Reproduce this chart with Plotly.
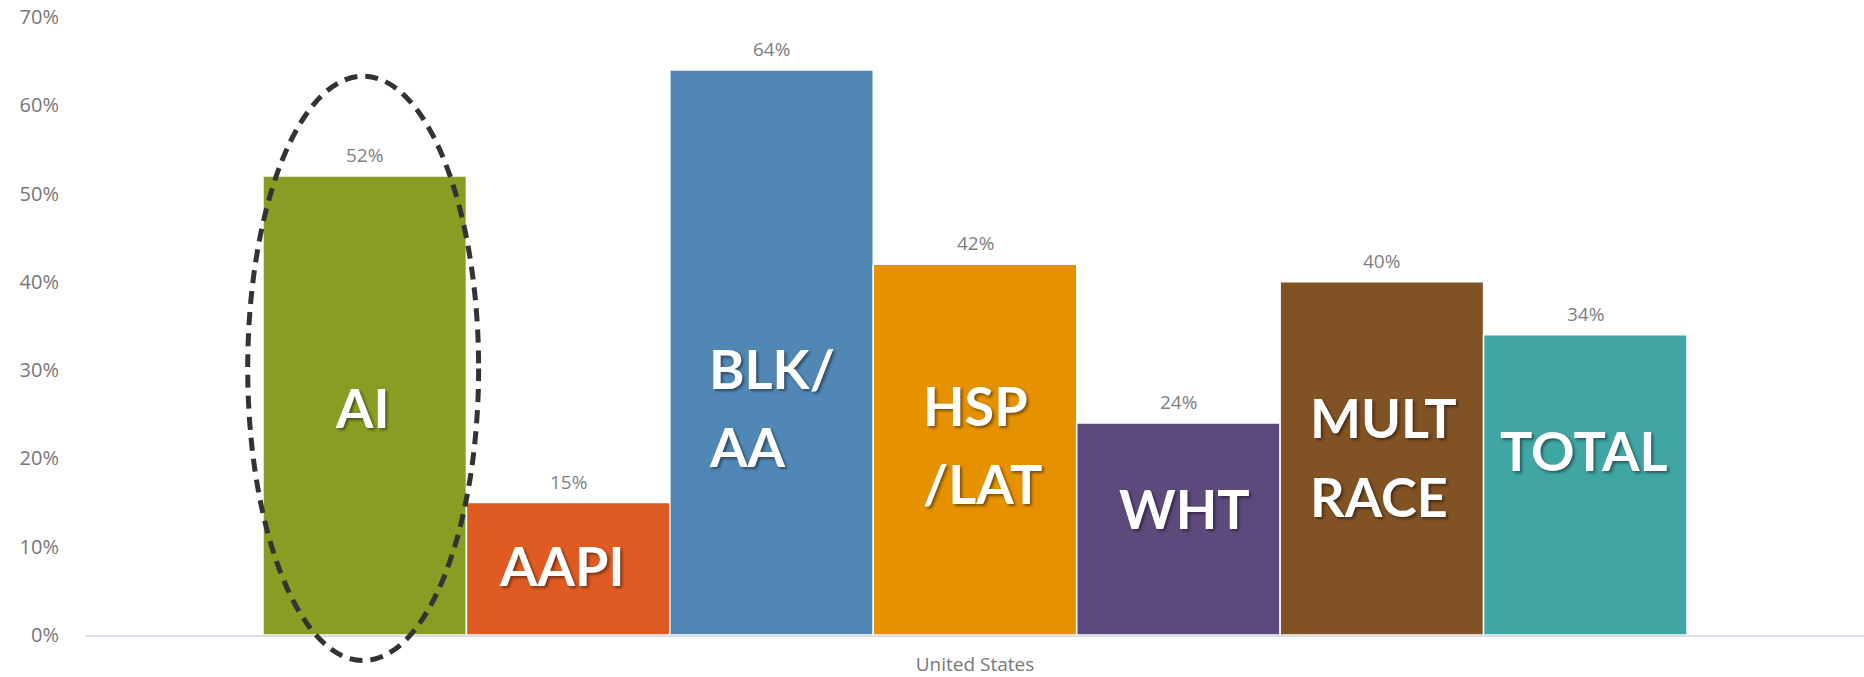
import plotly.graph_objects as go


# data
groups = ['AI', 'AAPI', 'BLK/AA', 'HSP/LAT', 'WHT', 'MULT RACE', 'TOTAL']
values = [52, 15, 64, 42, 24, 40, 34]
bar_labels = [['AI'], ['AAPI'], ['BLK/', 'AA'], ['HSP', '/LAT'], ['WHT'], ['MULT', 'RACE'], ['TOTAL']]
category = ['United States']
y_ticks = [0, 10, 20, 30, 40, 50, 60, 70]

colors = ['#8a9c23', '#df5b21', '#5087b5', '#e59100', '#5e497d', '#815224', '#3fa6a4']

# where the big white labels sit inside each bar (left edge offset, line centres in %)
label_dx = [-0.156, -0.35, -0.317, -0.265, -0.30, -0.362, -0.43]
label_y = [[25.8], [7.9], [30.2, 21.3], [26.0, 17.2], [14.3], [24.6, 15.7], [20.9]]

X_RANGE = [-1.37, 7.37]
Y_RANGE = [0, 70]


def main():
    xs = list(range(len(groups)))

    fig = go.Figure()
    fig.add_trace(go.Bar(
        x=xs,
        y=values,
        width=1,
        marker=dict(color=colors, line=dict(color='white', width=1.5)),
        hoverinfo='skip',
        showlegend=False,
    ))

    # value labels above bars
    for x, v in zip(xs, values):
        fig.add_annotation(
            x=x, y=v, text=f'{v}%', showarrow=False,
            yanchor='bottom', yshift=6,
            font=dict(family='Open Sans', size=19, color='#808080'),
        )

    # big labels inside bars
    for x, lines, dx, ys in zip(xs, bar_labels, label_dx, label_y):
        for line, y in zip(lines, ys):
            fig.add_annotation(
                x=x + dx, y=y, text=line, showarrow=False,
                xanchor='left', yanchor='middle',
                font=dict(family='Lato', size=54, color='white', weight='bold',
                          shadow='2px 2px 3px rgba(0,0,0,0.45)'),
            )

    # dashed ellipse around the AI bar (paper coords so it is not clipped)
    def px(v):
        return (v - X_RANGE[0]) / (X_RANGE[1] - X_RANGE[0])

    def py(v):
        return (v - Y_RANGE[0]) / (Y_RANGE[1] - Y_RANGE[0])

    fig.add_shape(
        type='circle', xref='paper', yref='paper',
        x0=px(-0.575), x1=px(0.56), y0=py(-2.9), y1=py(63.3),
        line=dict(color='#333333', width=5, dash='13px,8px'),
        layer='above',
    )

    fig.update_layout(
        width=1864,
        height=677,
        margin=dict(l=86, r=0, t=17, b=39),
        plot_bgcolor='white',
        paper_bgcolor='white',
        font=dict(family='Open Sans', color='#777777'),
        xaxis=dict(
            range=X_RANGE,
            tickvals=[3],
            ticktext=category,
            showgrid=False,
            zeroline=False,
            showline=True,
            linecolor='#dadee8',
            linewidth=2,
            ticks='',
            ticklabelstandoff=11,
            tickfont=dict(size=19, color='#777777'),
        ),
        yaxis=dict(
            range=Y_RANGE,
            tickvals=y_ticks,
            ticktext=[f'{t}%' for t in y_ticks],
            showgrid=False,
            zeroline=False,
            showline=False,
            ticks='',
            ticklabelstandoff=26,
            tickfont=dict(size=20, color='#777777'),
        ),
    )

    fig.write_html(
        'out.html',
        config={'displayModeBar': False},
        post_script="document.body.style.margin='0';document.body.style.overflow='hidden';",
    )
    return fig


if __name__ == '__main__':
    main()
